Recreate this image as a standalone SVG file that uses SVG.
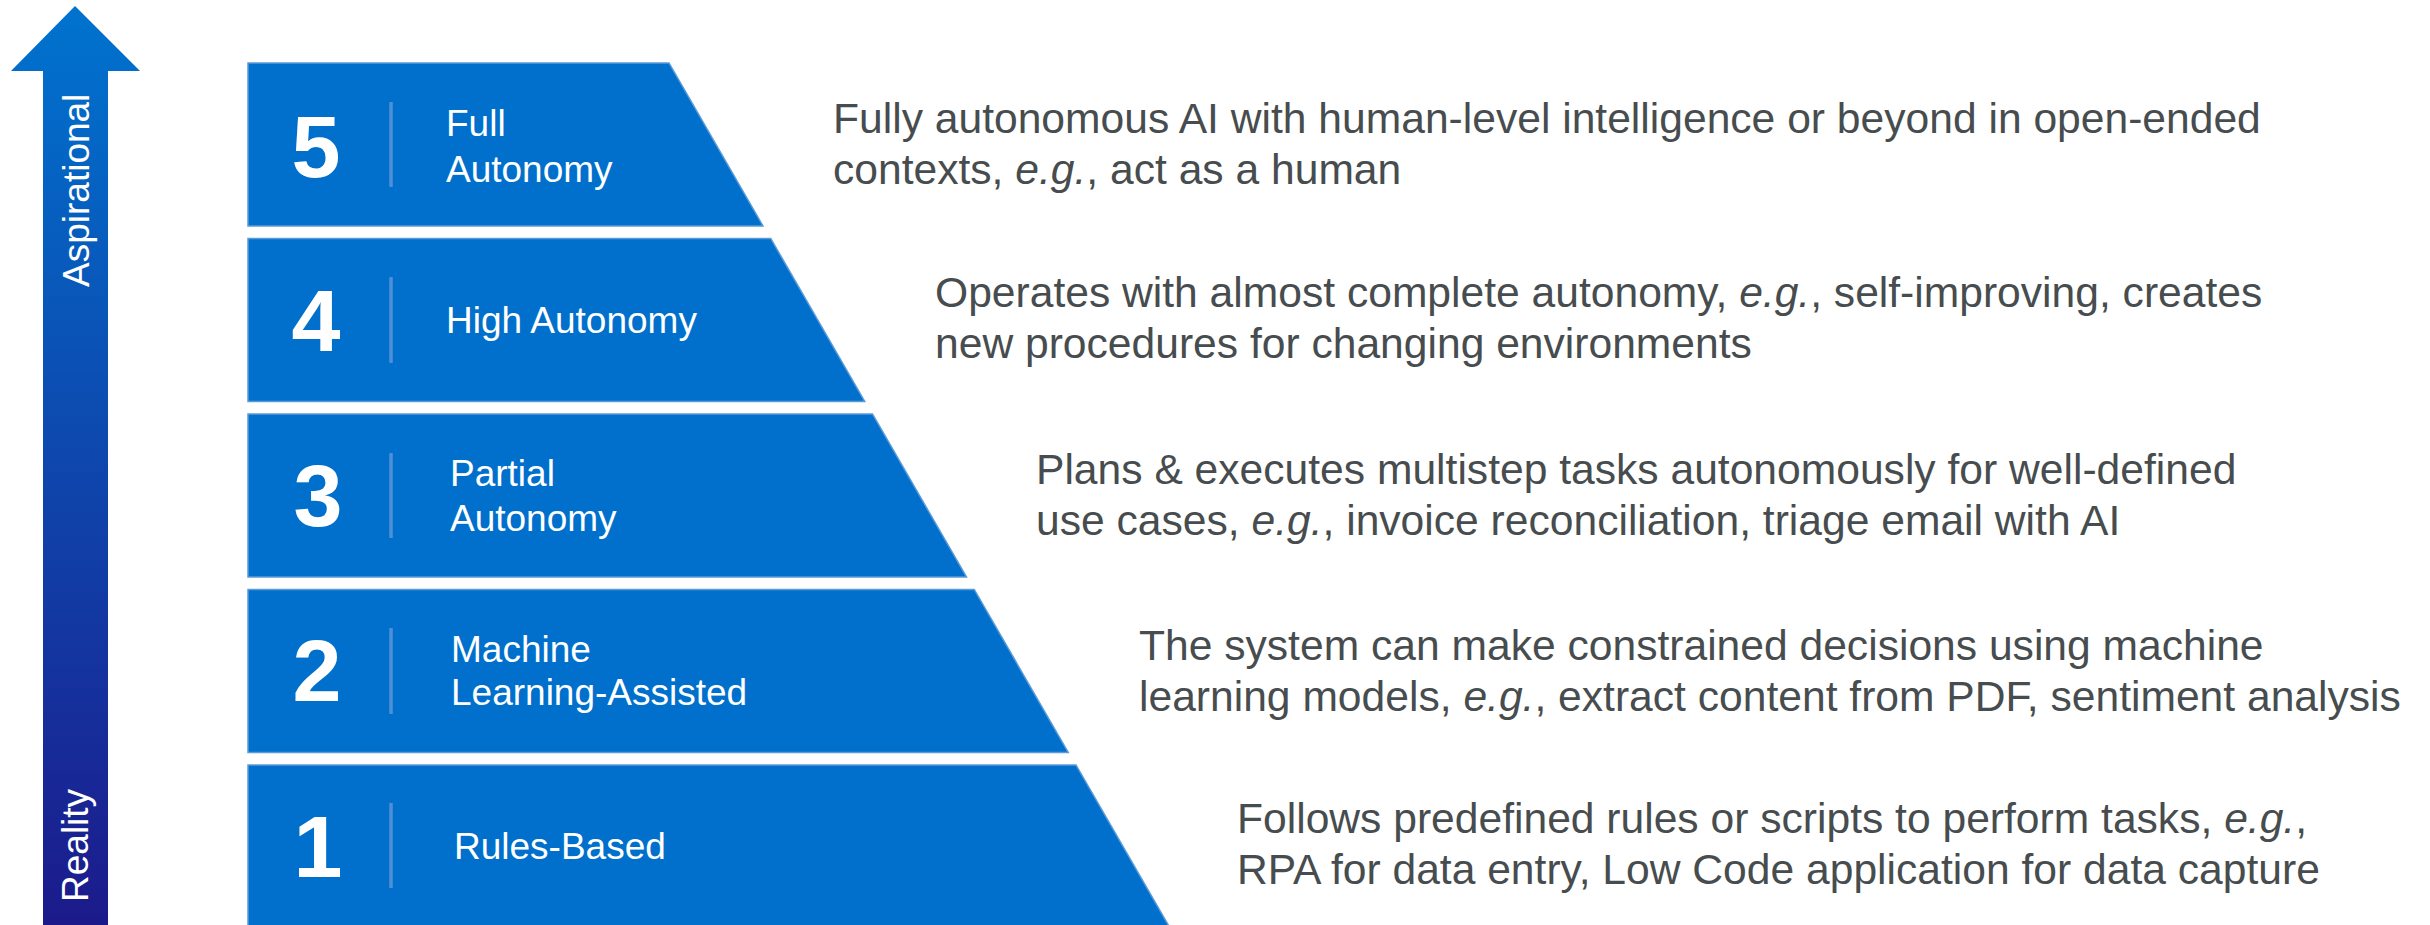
<svg xmlns="http://www.w3.org/2000/svg" width="2430" height="925" viewBox="0 0 2430 925">
<defs>
<linearGradient id="axisGrad" gradientUnits="userSpaceOnUse" x1="0" y1="6" x2="0" y2="925">
<stop offset="0" stop-color="#0073CF"/>
<stop offset="1" stop-color="#1C1A8B"/>
</linearGradient>
<style>
.tier{fill:#0070CC;stroke:#5B9BD8;stroke-width:1.5}
.sep{stroke:#4F8FD6;stroke-width:3.5}
.num{font-family:"Liberation Sans",Arial,sans-serif;font-weight:bold;font-size:88px;fill:#FFFFFF;text-anchor:middle}
.lbl{font-family:"Liberation Sans",Arial,sans-serif;font-size:37px;fill:#FFFFFF}
.desc{font-family:"Liberation Sans",Arial,sans-serif;font-size:42.6px;fill:#474C4E}
.axt{font-family:"Liberation Sans",Arial,sans-serif;font-size:37px;fill:#FFFFFF}
.it{font-style:italic}
</style>
</defs>
<rect x="0" y="0" width="2430" height="925" fill="#FFFFFF"/>

<g id="axis">
<polygon points="75,6 140,71 108,71 108,925 43,925 43,71 11,71" fill="url(#axisGrad)"/>
<text class="axt" transform="translate(88.5,287) rotate(-90)">Aspirational</text>
<text class="axt" transform="translate(87.5,902) rotate(-90)">Reality</text>
</g>

<g id="connectors"></g>

<g id="level5">
<polygon class="tier" points="248,63 669,63 763,226 248,226"/>
<line class="sep" x1="391" y1="102" x2="391" y2="187"/>
<text class="num" x="316" y="177">5</text>
<text class="lbl" x="446" y="136">Full</text>
<text class="lbl" x="446" y="182">Autonomy</text>
<text class="desc" x="833" y="133">Fully autonomous AI with human-level intelligence or beyond in open-ended</text>
<text class="desc" x="833" y="184">contexts, <tspan class="it">e.g.</tspan>, act as a human</text>
</g>

<g id="level4">
<polygon class="tier" points="248,238.5 770.75,238.5 864.75,401.5 248,401.5"/>
<line class="sep" x1="391" y1="277" x2="391" y2="363"/>
<text class="num" x="316" y="351">4</text>
<text class="lbl" x="446" y="333">High Autonomy</text>
<text class="desc" x="935" y="307">Operates with almost complete autonomy, <tspan class="it">e.g.</tspan>, self-improving, creates</text>
<text class="desc" x="935" y="358">new procedures for changing environments</text>
</g>

<g id="level3">
<polygon class="tier" points="248,414 872.5,414 966.5,577 248,577"/>
<line class="sep" x1="391" y1="453" x2="391" y2="538"/>
<text class="num" x="318" y="526">3</text>
<text class="lbl" x="450" y="486">Partial</text>
<text class="lbl" x="450" y="531">Autonomy</text>
<text class="desc" x="1036" y="484">Plans &amp; executes multistep tasks autonomously for well-defined</text>
<text class="desc" x="1036" y="535">use cases, <tspan class="it">e.g.</tspan>, invoice reconciliation, triage email with AI</text>
</g>

<g id="level2">
<polygon class="tier" points="248,589.5 974.25,589.5 1068.25,752.5 248,752.5"/>
<line class="sep" x1="391" y1="628" x2="391" y2="714"/>
<text class="num" x="317" y="701">2</text>
<text class="lbl" x="451" y="662">Machine</text>
<text class="lbl" x="451" y="705">Learning-Assisted</text>
<text class="desc" x="1139" y="660">The system can make constrained decisions using machine</text>
<text class="desc" x="1139" y="711">learning models, <tspan class="it">e.g.</tspan>, extract content from PDF, sentiment analysis</text>
</g>

<g id="level1">
<polygon class="tier" points="248,765 1076,765 1170,928 248,928"/>
<line class="sep" x1="391" y1="803" x2="391" y2="888"/>
<text class="num" x="318" y="877">1</text>
<text class="lbl" x="454" y="859">Rules-Based</text>
<text class="desc" x="1237" y="833">Follows predefined rules or scripts to perform tasks, <tspan class="it">e.g.</tspan>,</text>
<text class="desc" x="1237" y="884">RPA for data entry, Low Code application for data capture</text>
</g>
</svg>
